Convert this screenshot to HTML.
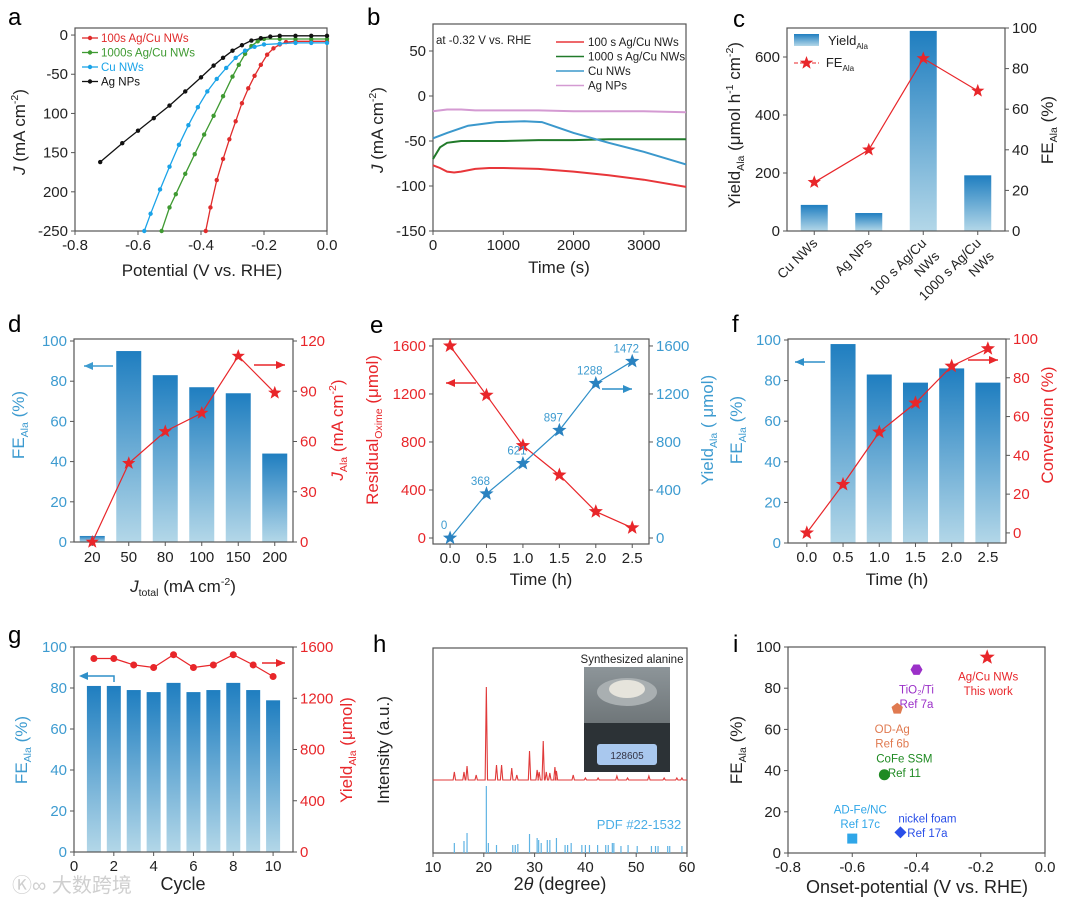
<!DOCTYPE html>
<html><head><meta charset="utf-8"><style>
html,body{margin:0;padding:0;background:#fff;}
svg{display:block;font-family:"Liberation Sans","Noto Sans CJK SC",sans-serif;}
</style></head><body>
<svg id="fig" width="1080" height="910" viewBox="0 0 1080 910" xmlns="http://www.w3.org/2000/svg">
<defs>
<linearGradient id="barg" x1="0" y1="0" x2="0" y2="1"><stop offset="0" stop-color="#1f7ec0"/><stop offset="1" stop-color="#b3d7e8"/></linearGradient>
<linearGradient id="photo" x1="0" y1="0" x2="0" y2="1"><stop offset="0" stop-color="#8d9599"/><stop offset="0.55" stop-color="#6e7578"/><stop offset="1" stop-color="#3b4044"/></linearGradient>
</defs>
<text x="12" y="892" font-size="20" fill="#cfcfcf">Ⓚ∞ 大数跨境</text>
</svg>
<script>
// ---------- data ----------
const aRedX=[0,-0.05,-0.1,-0.13,-0.15,-0.17,-0.19,-0.21,-0.23,-0.25,-0.27,-0.29,-0.31,-0.33,-0.35,-0.37,-0.385];
const aRedY=[-8,-8,-8,-9,-12,-17,-25,-38,-52,-68,-87,-110,-133,-158,-185,-220,-250];
const aGreenX=[0,-0.05,-0.1,-0.15,-0.2,-0.22,-0.24,-0.26,-0.28,-0.3,-0.33,-0.36,-0.39,-0.42,-0.45,-0.48,-0.5,-0.525];
const aGreenY=[-5,-5,-5,-5,-5,-8,-14,-24,-38,-53,-78,-103,-127,-152,-177,-203,-220,-250];
const aBlueX=[0,-0.05,-0.1,-0.15,-0.2,-0.23,-0.26,-0.29,-0.32,-0.35,-0.38,-0.41,-0.44,-0.47,-0.5,-0.53,-0.56,-0.58];
const aBlueY=[-10,-10,-10,-11,-12,-15,-20,-29,-42,-56,-72,-92,-115,-140,-168,-197,-228,-250];
const aBlackX=[0,-0.05,-0.1,-0.15,-0.18,-0.21,-0.24,-0.27,-0.3,-0.33,-0.36,-0.4,-0.45,-0.5,-0.55,-0.6,-0.65,-0.72];
const aBlackY=[-1,-1,-1,-1,-2,-4,-7,-13,-20,-29,-39,-54,-72,-90,-106,-122,-138,-162];
const bT=[0,100,200,300,400,600,800,1000,1500,2000,2500,3000,3600];
const bRed=[-77,-80,-84,-85,-84,-81,-80,-80,-81,-84,-88,-93,-101];
const bGreen=[-70,-57,-52,-51,-50,-50,-50,-50,-49,-49,-48,-48,-48];
const bBlueT=[0,200,500,900,1300,1550,1700,2000,2500,3000,3600];
const bBlue=[-47,-41,-33,-29,-28,-29,-33,-41,-52,-62,-76];
const bPink=[-17,-16,-15,-15,-15,-16,-16,-16,-16,-17,-17,-17,-18];
const cCats=[["Cu NWs"],["Ag NPs"],["100 s Ag/Cu","NWs"],["1000 s Ag/Cu","NWs"]];
const cYield=[90,62,690,192];
const cFE=[24,40,85,69];
const dCats=["20","50","80","100","150","200"];
const dFE=[3,95,83,77,74,44];
const dJ=[0,47,66,77,111,89];
const eTime=[0,0.5,1,1.5,2,2.5];
const eResid=[1600,1190,770,525,220,85];
const eYield=[0,368,621,897,1288,1472];
const fTime=[0,0.5,1,1.5,2,2.5];
const fFE=[null,98,83,79,86,79];
const fConv=[0,25,52,67,86,95];
const gCycle=[1,2,3,4,5,6,7,8,9,10];
const gFE=[81,81,79,78,82.5,78,79,82.5,79,74];
const gYield=[1510,1510,1460,1440,1540,1440,1460,1540,1460,1370];
const hRedPos=[14.2,16.1,16.7,18.5,20.5,22.5,23.5,25.5,26.5,29.0,30.5,30.9,31.7,32.3,33.0,34.0,34.3,37.6,40.0,42.5,46.2,48.3,52.5,55.5,58.0,59.0];
const hRedH=[8,8,14,5,93,15,15,12,5,29,10,8,39,8,7,13,9,5,2,2,4,2,4,2,2,2];
const hPdfPos=[14.2,16.1,16.7,20.5,20.9,22.5,25.7,26.2,26.7,29.0,30.5,30.8,31.3,32.5,33.0,34.3,36.0,36.5,37.2,39.3,40.0,40.8,42.4,44.0,44.5,45.3,45.6,47.0,48.4,50.2,53.0,53.8,54.3,56.2,56.6,59.0];
const hPdfH=[10,12,20,67,10,8,8,8,9,19,15,13,10,13,13,15,8,8,10,8,8,8,8,8,8,10,10,7,8,7,7,7,7,7,7,7];
const iNames=["Ag/Cu NWs|This work","TiO₂/Ti|Ref 7a","OD-Ag|Ref 6b","CoFe SSM|Ref 11","AD-Fe/NC|Ref 17c","nickel foam|Ref 17a"];
const iX=[-0.18,-0.40,-0.46,-0.50,-0.60,-0.45];
const iY=[95,89,70,38,7,10];

// ---------- helpers ----------
const NS="http://www.w3.org/2000/svg", svg=document.getElementById('fig');
function mk(tag,at,par){const e=document.createElementNS(NS,tag);for(const k in at)e.setAttribute(k,at[k]);(par||svg).appendChild(e);return e;}
function sc(d0,d1,r0,r1){return v=>r0+(v-d0)*(r1-r0)/(d1-d0);}
const RED="#e8262a",BLU="#3d9bd0",INK="#222";
function group(name){const g=mk('g',{});return g;}
function txt(g,x,y,s,o){o=o||{};const t=mk('text',{x:x,y:y,'font-size':o.fs||15,fill:o.fill||INK,'text-anchor':o.anc||'middle'},g);if(o.rot)t.setAttribute('transform','rotate('+o.rot+' '+x+' '+y+')');t.textContent=s;return t;}
function rich(g,x,y,parts,o){o=o||{};const t=mk('text',{x:x,y:y,'font-size':o.fs||17,fill:o.fill||INK,'text-anchor':'middle'},g);if(o.rot)t.setAttribute('transform','rotate('+o.rot+' '+x+' '+y+')');
 parts.forEach(p=>{const s=mk('tspan',{},t);s.textContent=p[0];if(p[1]==='sub'){s.setAttribute('font-size',(o.fs||17)*0.62);s.setAttribute('dy',4);}else if(p[1]==='sup'){s.setAttribute('font-size',(o.fs||17)*0.62);s.setAttribute('dy',-7);}else if(p[1]==='i'){s.setAttribute('font-style','italic');}
 if(p[2])s.setAttribute('dy',p[2]);});return t;}
function box(g,x0,y0,x1,y1){const r=mk('rect',{x:x0,y:y0,width:x1-x0,height:y1-y0,fill:'none',stroke:'#555','stroke-width':1.2},g);}
function xticks(g,xs,vals,labels,y,col){vals.forEach((v,i)=>{mk('line',{x1:xs(v),x2:xs(v),y1:y,y2:y+4,stroke:'#555'},g);const t=txt(g,xs(v),y+19,labels[i],{fill:col||INK});});}
function yticks(g,ys,vals,labels,x,side,col){vals.forEach((v,i)=>{const d=side==='r'?4:-4;mk('line',{x1:x,x2:x+d,y1:ys(v),y2:ys(v),stroke:'#555'},g);const t=txt(g,x+(side==='r'?7:-7),ys(v)+5,labels[i],{anc:side==='r'?'start':'end',fill:col||INK});});}
function poly(g,xs,ys,X,Y,col,w){let p=[];X.forEach((x,i)=>{if(Y[i]!=null)p.push(xs(x).toFixed(1)+','+ys(Y[i]).toFixed(1));});const l=mk('polyline',{points:p.join(' '),fill:'none',stroke:col,'stroke-width':w||1.2},g);return l;}
function star(g,cx,cy,r,col){let p=[];for(let k=0;k<10;k++){const a=-Math.PI/2+k*Math.PI/5,rr=k%2?r*0.42:r;p.push((cx+rr*Math.cos(a)).toFixed(1)+','+(cy+rr*Math.sin(a)).toFixed(1));}return mk('polygon',{points:p.join(' '),fill:col},g);}
function arrow(g,x0,y,x1,col){mk('line',{x1:x0,x2:x1,y1:y,y2:y,stroke:col,'stroke-width':1.5},g);const d=x1>x0?-1:1;mk('polygon',{points:x1+','+y+' '+(x1+d*9)+','+(y-4)+' '+(x1+d*9)+','+(y+4),fill:col},g);}
function letter(x,y,s){const t=txt(svg,x,y,s,{fs:24,anc:'start',fill:'#000'});}

// ---------- panel a ----------
(function(){const g=group('panel-a');const xs=sc(-0.8,0,75,327),ys=sc(-250,9,231,28);
box(g,75,28,327,231);
xticks(g,xs,[-0.8,-0.6,-0.4,-0.2,0],["-0.8","-0.6","-0.4","-0.2","0.0"],231);
yticks(g,ys,[0,-50,-100,-150,-200,-250],["0","-50","100","150","200","-250"],75,'l');
const S=[[aRedX,aRedY,"#e02b2b"],[aGreenX,aGreenY,"#3f9a32"],[aBlueX,aBlueY,"#1aa3e8"],[aBlackX,aBlackY,"#111"]];
const nm=['series-100s-agcu','series-1000s-agcu','series-cu-nws','series-ag-nps'];
S.forEach((s,k)=>{const l=poly(g,xs,ys,s[0],s[1],s[2],1.3);
 s[0].forEach((x,i)=>{const c=mk('circle',{cx:xs(x),cy:ys(s[1][i]),r:2.2,fill:s[2]},g);});});
const lab=["100s Ag/Cu NWs","1000s Ag/Cu NWs","Cu NWs","Ag NPs"];
lab.forEach((s,k)=>{const y=38+k*14.5;mk('line',{x1:82,x2:98,y1:y,y2:y,stroke:S[k][2],'stroke-width':1.3},g);mk('circle',{cx:90,cy:y,r:2.2,fill:S[k][2]},g);const t=txt(g,101,y+4,s,{fs:11.5,anc:'start',fill:S[k][2]});});
rich(g,202,276,[["Potential (V vs. RHE)"]]);
rich(g,25,132,[["J","i"],[" (mA cm"],["-2","sup"],[")","",7]],{rot:-90});
})();
letter(8,25,'a');

// ---------- panel b ----------
(function(){const g=group('panel-b');const xs=sc(0,3600,433,686),ys=sc(-150,80,231,24);
box(g,433,24,686,231);
xticks(g,xs,[0,1000,2000,3000],["0","1000","2000","3000"],231);
yticks(g,ys,[50,0,-50,-100,-150],["50","0","-50","-100","-150"],433,'l');
const S=[[bT,bRed,"#e8363a"],[bT,bGreen,"#217a2a"],[bBlueT,bBlue,"#3b98cc"],[bT,bPink,"#d49ad2"]];
const nm=['series-100s-agcu','series-1000s-agcu','series-cu-nws','series-ag-nps'];
S.forEach((s,k)=>{const l=poly(g,xs,ys,s[0],s[1],s[2],2);});
const t0=txt(g,436,44,"at -0.32 V vs. RHE",{fs:11.5,anc:'start'});
const lab=["100 s Ag/Cu NWs","1000 s Ag/Cu NWs","Cu NWs","Ag NPs"];
lab.forEach((s,k)=>{const y=42+k*14.5;mk('line',{x1:556,x2:584,y1:y,y2:y,stroke:S[k][2],'stroke-width':1.6},g);const t=txt(g,588,y+4,s,{fs:11.5,anc:'start'});});
rich(g,559,273,[["Time (s)"]]);
rich(g,383,130,[["J","i"],[" (mA cm"],["-2","sup"],[")","",7]],{rot:-90});
})();
letter(367,25,'b');

// ---------- panel c ----------
(function(){const g=group('panel-c');const ys=sc(0,700,231,28),yr=sc(0,100,231,28);const cx=i=>787+27.25+i*54.5;
cYield.forEach((v,i)=>{const r=mk('rect',{x:cx(i)-13.5,y:ys(v),width:27,height:231-ys(v),fill:'url(#barg)'},g);});
box(g,787,28,1005,231);
yticks(g,ys,[0,200,400,600],["0","200","400","600"],787,'l');
yticks(g,yr,[0,20,40,60,80,100],["0","20","40","60","80","100"],1005,'r');
cCats.forEach((c,i)=>{mk('line',{x1:cx(i),x2:cx(i),y1:231,y2:235,stroke:'#555'},g);c.forEach((s,j)=>{const t=txt(g,cx(i)+4+j*13,244+j*13,s,{fs:13.5,anc:'end',rot:-45});});});
const l=poly(g,cx,yr,[0,1,2,3],cFE,RED,1.2);
cFE.forEach((v,i)=>{const s=star(g,cx(i),yr(v),7,RED);});
mk('rect',{x:794,y:34,width:25,height:12,fill:'url(#barg)'},g);
rich(g,848,45,[["Yield"],["Ala","sub"]],{fs:13});
mk('line',{x1:794,x2:819,y1:63,y2:63,stroke:RED,'stroke-dasharray':'4,2'},g);star(g,806.5,63,7,RED);
rich(g,840,67,[["FE"],["Ala","sub"]],{fs:13});
rich(g,740,125,[["Yield"],["Ala","sub"],[" (μmol h","",-4],["-1","sup"],[" cm","",7],["-2","sup"],[")","",7]],{rot:-90});
rich(g,1053,130,[["FE"],["Ala","sub"],[" (%)","",-4]],{rot:-90});
})();
letter(733,27,'c');

// ---------- panel d ----------
(function(){const g=group('panel-d');const ys=sc(0,100,542,341),yr=sc(0,120,542,341);const cx=i=>74+18.25+i*36.5;
dFE.forEach((v,i)=>{const r=mk('rect',{x:cx(i)-12.5,y:ys(v),width:25,height:542-ys(v),fill:'url(#barg)'},g);});
box(g,74,339,293,542);
yticks(g,ys,[0,20,40,60,80,100],["0","20","40","60","80","100"],74,'l',BLU);
yticks(g,yr,[0,30,60,90,120],["0","30","60","90","120"],293,'r',RED);
dCats.forEach((c,i)=>{mk('line',{x1:cx(i),x2:cx(i),y1:542,y2:546,stroke:'#555'},g);const t=txt(g,cx(i),562,c);});
const l=poly(g,cx,yr,[0,1,2,3,4,5],dJ,RED,1.2);
dJ.forEach((v,i)=>{const s=star(g,cx(i),yr(v),7,RED);});
arrow(g,113,366,84,BLU);arrow(g,254,365,285,RED);
rich(g,183,592,[["J","i"],["total","sub"],[" (mA cm","",-4],["-2","sup"],[")","",7]]);
rich(g,24,425,[["FE"],["Ala","sub"],[" (%)","",-4]],{rot:-90,fill:BLU});
rich(g,343,430,[["J","i"],["Ala","sub"],[" (mA cm","",-4],["-2","sup"],[")","",7]],{rot:-90,fill:RED});
})();
letter(8,332,'d');

// ---------- panel e ----------
(function(){const g=group('panel-e');const xs=sc(-0.234,2.73,433,649),ys=sc(-50,1658,544,339);
box(g,433,339,649,544);
xticks(g,xs,[0,0.5,1,1.5,2,2.5],["0.0","0.5","1.0","1.5","2.0","2.5"],544);
yticks(g,ys,[0,400,800,1200,1600],["0","400","800","1200","1600"],433,'l',RED);
yticks(g,ys,[0,400,800,1200,1600],["0","400","800","1200","1600"],649,'r',BLU);
const l1=poly(g,xs,ys,eTime,eResid,RED,1.2);
const l2=poly(g,xs,ys,eTime,eYield,"#2f8fc8",1.2);
eTime.forEach((t,i)=>{const a=star(g,xs(t),ys(eResid[i]),7.5,RED);
 const b=star(g,xs(t),ys(eYield[i]),7.5,"#2a82c0");
 const v=txt(g,xs(t)-6,ys(eYield[i])-9,String(eYield[i]),{fs:11.5,fill:BLU});});
arrow(g,476,383,446,RED);arrow(g,602,389,632,"#2f8fc8");
rich(g,541,585,[["Time (h)"]]);
rich(g,378,430,[["Residual"],["Oxime","sub"],[" (μmol)","",-4]],{rot:-90,fill:RED});
rich(g,713,430,[["Yield"],["Ala","sub"],[" ( μmol)","",-4]],{rot:-90,fill:BLU});
})();
letter(370,333,'e');

// ---------- panel f ----------
(function(){const g=group('panel-f');const xs=sc(-0.26,2.75,788,1006),ys=sc(0,100,543,340),yr=sc(-5.2,100,543,339);
fTime.forEach((t,i)=>{if(fFE[i]==null)return;const r=mk('rect',{x:xs(t)-12.5,y:ys(fFE[i]),width:25,height:543-ys(fFE[i]),fill:'url(#barg)'},g);});
box(g,788,339,1006,543);
xticks(g,xs,[0,0.5,1,1.5,2,2.5],["0.0","0.5","1.0","1.5","2.0","2.5"],543);
yticks(g,ys,[0,20,40,60,80,100],["0","20","40","60","80","100"],788,'l',BLU);
yticks(g,yr,[0,20,40,60,80,100],["0","20","40","60","80","100"],1006,'r',RED);
const l=poly(g,xs,yr,fTime,fConv,RED,1.2);
fConv.forEach((v,i)=>{const s=star(g,xs(fTime[i]),yr(v),7.5,RED);});
arrow(g,825,362,795,"#2f8fc8");arrow(g,968,360,998,RED);
rich(g,897,585,[["Time (h)"]]);
rich(g,742,430,[["FE"],["Ala","sub"],[" (%)","",-4]],{rot:-90,fill:BLU});
rich(g,1053,425,[["Conversion (%)"]],{rot:-90,fill:RED});
})();
letter(732,332,'f');

// ---------- panel g ----------
(function(){const g=group('panel-g');const xs=sc(0,11,74,293),ys=sc(0,100,852,647),yr=sc(0,1600,852,647);
gCycle.forEach((c,i)=>{const r=mk('rect',{x:xs(c)-7,y:ys(gFE[i]),width:14,height:852-ys(gFE[i]),fill:'url(#barg)'},g);});
box(g,74,647,293,852);
xticks(g,xs,[0,2,4,6,8,10],["0","2","4","6","8","10"],852);
yticks(g,ys,[0,20,40,60,80,100],["0","20","40","60","80","100"],74,'l',BLU);
yticks(g,yr,[0,400,800,1200,1600],["0","400","800","1200","1600"],293,'r',RED);
const l=poly(g,xs,yr,gCycle,gYield,RED,1.2);
gCycle.forEach((c,i)=>{const p=mk('circle',{cx:xs(c),cy:yr(gYield[i]),r:3.5,fill:RED},g);});
mk('polyline',{points:'114,682 114,676 86,676',fill:'none',stroke:'#2f8fc8','stroke-width':1.5},g);mk('polygon',{points:'79,676 88,672 88,680',fill:'#2f8fc8'},g);
arrow(g,262,663,285,RED);
rich(g,183,890,[["Cycle"]],{fs:18});
rich(g,27,750,[["FE"],["Ala","sub"],[" (%)","",-4]],{rot:-90,fill:BLU});
rich(g,352,750,[["Yield"],["Ala","sub"],[" (μmol)","",-4]],{rot:-90,fill:RED});
})();
letter(8,643,'g');

// ---------- panel h ----------
(function(){const g=group('panel-h');const xs=sc(10,60,433,687);const base=780,pbase=853;
box(g,433,648,687,853);
xticks(g,xs,[10,20,30,40,50,60],["10","20","30","40","50","60"],853);
let p=[xs(10)+','+base];hRedPos.forEach((x,i)=>{p.push((xs(x)-1.2)+','+base,xs(x)+','+(base-hRedH[i]),(xs(x)+1.2)+','+base);});p.push(xs(60)+','+base);
const r=mk('polyline',{points:p.join(' '),fill:'none',stroke:'#e03a3a','stroke-width':1.1},g);
hPdfPos.forEach((x,i)=>{const l=mk('line',{x1:xs(x),x2:xs(x),y1:pbase,y2:pbase-hPdfH[i],stroke:'#5fb3e3','stroke-width':1.2},g);});
const ph=mk('g',{},g);
mk('rect',{x:584,y:667,width:86,height:105,fill:'url(#photo)'},ph);
mk('ellipse',{cx:627,cy:692,rx:30,ry:14,fill:'#a9afb1'},ph);mk('ellipse',{cx:627,cy:689,rx:18,ry:9,fill:'#e6e4dc'},ph);
mk('rect',{x:584,y:723,width:86,height:49,fill:'#2c3236'},ph);mk('rect',{x:597,y:744,width:60,height:21,rx:3,fill:'#a9c8ee'},ph);
txt(ph,627,759,"128605",{fs:10,fill:'#334'});
txt(g,632,663,"Synthesized alanine",{fs:11.5});
const pd=txt(g,639,829,"PDF #22-1532",{fs:13,fill:'#4aaee6'});
rich(g,560,890,[["2"],["θ","i"],[" (degree)"]],{fs:18});
rich(g,389,750,[["Intensity (a.u.)"]],{rot:-90});
})();
letter(373,652,'h');

// ---------- panel i ----------
(function(){const g=group('panel-i');const xs=sc(-0.8,0,788,1045),ys=sc(0,100,853,647);
box(g,788,647,1045,853);
xticks(g,xs,[-0.8,-0.6,-0.4,-0.2,0],["-0.8","-0.6","-0.4","-0.2","0.0"],853);
yticks(g,ys,[0,20,40,60,80,100],["0","20","40","60","80","100"],788,'l');
const cols=["#e8262a","#9b30c8","#e07a50","#1f8a22","#2fa6e8","#2a4fe8"];
const lab=[[1,23],[0,24],[-5,24],[20,-12],[8,-25],[27,-10]];
iX.forEach((x,i)=>{const X=xs(x),Y=ys(iY[i]);let m;
 if(i===0)m=star(g,X,Y,8,cols[i]);
 else if(i===1){let p=[];for(let k=0;k<6;k++){const a=k*Math.PI/3;p.push((X+6*Math.cos(a))+','+(Y+6*Math.sin(a)));}m=mk('polygon',{points:p.join(' '),fill:cols[i]},g);}
 else if(i===2){let p=[];for(let k=0;k<5;k++){const a=-Math.PI/2+k*2*Math.PI/5;p.push((X+6*Math.cos(a))+','+(Y+6*Math.sin(a)));}m=mk('polygon',{points:p.join(' '),fill:cols[i]},g);}
 else if(i===3)m=mk('circle',{cx:X,cy:Y,r:5.5,fill:cols[i]},g);
 else if(i===4)m=mk('rect',{x:X-5,y:Y-5,width:10,height:10,fill:cols[i]},g);
 else m=mk('polygon',{points:X+','+(Y-6)+' '+(X+6)+','+Y+' '+X+','+(Y+6)+' '+(X-6)+','+Y,fill:cols[i]},g);
 
 iNames[i].split('|').forEach((s,j)=>{const t=txt(g,X+lab[i][0],Y+lab[i][1]+j*14.5,s,{fs:11.5,fill:cols[i]});});});
rich(g,917,893,[["Onset-potential (V vs. RHE)"]],{fs:18});
rich(g,742,750,[["FE"],["Ala","sub"],[" (%)","",-4]],{rot:-90});
})();
letter(733,652,'i');
</script>
</body></html>
